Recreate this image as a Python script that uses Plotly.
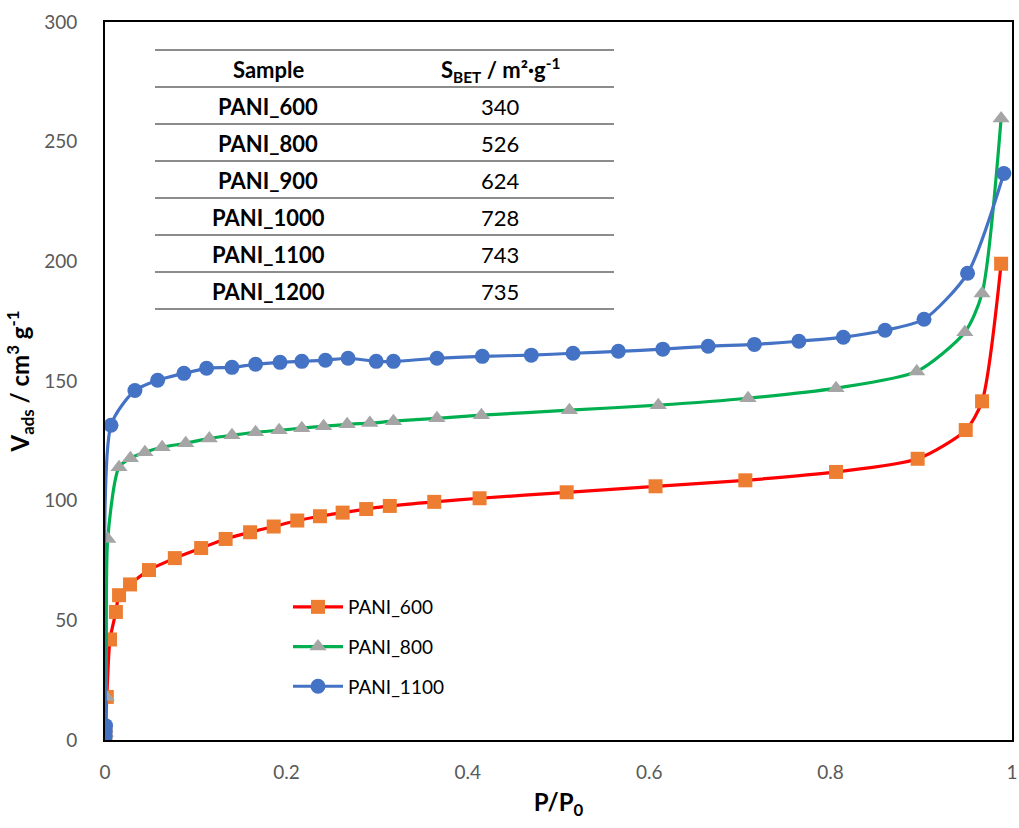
import plotly.graph_objects as go

# ---------------- data ----------------
p600_x = [0.0001, 0.0004, 0.002, 0.0055, 0.012, 0.0155, 0.0276, 0.0485, 0.077, 0.106, 0.133, 0.160, 0.186,
          0.212, 0.237, 0.262, 0.288, 0.314, 0.363, 0.413, 0.509, 0.607, 0.706, 0.806, 0.896, 0.949, 0.967, 0.988]
p600_y = [1, 3, 18, 42, 53.5, 60.5, 65, 71, 76, 80.2, 84, 86.8, 89.2, 91.7, 93.5, 95, 96.5, 97.8, 99.5,
          101, 103.5, 106, 108.5, 112, 117.5, 129.5, 141.5, 199]

p800_x = [0.0001, 0.0004, 0.0015, 0.003, 0.0155, 0.028, 0.044, 0.063, 0.089, 0.115, 0.140, 0.166, 0.192,
          0.217, 0.241, 0.267, 0.292, 0.318, 0.366, 0.415, 0.512, 0.610, 0.709, 0.806, 0.895, 0.948, 0.967, 0.988]
p800_y = [1, 3, 18, 84, 114, 117.7, 120.2, 122.3, 124, 126, 127.3, 128.6, 129.4, 130.3, 131.1, 131.9,
          132.4, 133.2, 134.4, 135.7, 137.8, 139.9, 142.8, 147, 154, 170.4, 186.6, 259.7]

p1100_x = [0.0001, 0.0003, 0.0006, 0.0066, 0.033, 0.058, 0.087, 0.112, 0.140, 0.166, 0.193, 0.217, 0.243,
           0.268, 0.299, 0.318, 0.366, 0.416, 0.470, 0.516, 0.566, 0.615, 0.665, 0.716, 0.765, 0.814,
           0.860, 0.903, 0.951, 0.991]
p1100_y = [1.5, 3.5, 6, 131.5, 146, 150.3, 153.2, 155.3, 155.7, 157, 157.8, 158.2, 158.7, 159.5, 158.2,
           158.2, 159.5, 160.3, 160.8, 161.6, 162.4, 163.3, 164.5, 165.3, 166.6, 168.3, 171.2, 175.8,
           195, 236.7]

table_samples = ["PANI_600", "PANI_800", "PANI_900", "PANI_1000", "PANI_1100", "PANI_1200"]
table_sbet = [340, 526, 624, 728, 743, 735]
table_header = ["Sample", "S<sub>BET</sub> / m²·g<sup>-1</sup>"]

x_ticks = [0, 0.2, 0.4, 0.6, 0.8, 1]
x_ticklabels = ["0", "0.2", "0.4", "0.6", "0.8", "1"]
y_ticks = [0, 50, 100, 150, 200, 250, 300]

# ---------------- figure ----------------
FONT = "Lato"
W, H = 1019, 828
L, R, T, B = 105, 7, 22, 88
PW, PH = W - L - R, H - T - B


def px_to_paper(px, py):
    return (px - L) / PW, 1 - (py - T) / PH


fig = go.Figure()

series = [
    ("PANI_600", p600_x, p600_y, "#FF0000", "#ED7D31", "square", 14),
    ("PANI_800", p800_x, p800_y, "#00B050", "#A5A5A5", "triangle-up", 15),
    ("PANI_1100", p1100_x, p1100_y, "#4472C4", "#4472C4", "circle", 15),
]
for name, xs, ys, lc, mc, sym, ms in series:
    fig.add_trace(go.Scatter(
        x=xs, y=ys, name=name, mode="lines+markers",
        line=dict(color=lc, width=3.2, shape="spline", smoothing=0.7),
        marker=dict(color=mc, symbol=sym, size=ms, line=dict(width=0)),
        legendgroup=name,
    ))

# ---- embedded table ----
tx0, tx1 = 155, 614
line_y0, row_h = 50, 37
col1_x, col2_x = 268, 500
for i in range(len(table_samples) + 2):
    yy = line_y0 + i * row_h
    a, b_ = px_to_paper(tx0, yy)
    c, _ = px_to_paper(tx1, yy)
    fig.add_shape(type="line", xref="paper", yref="paper", x0=a, x1=c, y0=b_, y1=b_,
                  line=dict(color="#8C8C8C", width=2))

rows = [(table_header[0], table_header[1], True)] + [
    (s, str(v), False) for s, v in zip(table_samples, table_sbet)]
for i, (c1, c2, hdr) in enumerate(rows):
    cy = line_y0 + (i + 0.5) * row_h + 1
    x1p, yp = px_to_paper(col1_x, cy)
    x2p, _ = px_to_paper(col2_x, cy)
    fig.add_annotation(x=x1p, y=yp, xref="paper", yref="paper", text=f"<b>{c1}</b>",
                       xanchor="center", yanchor="middle",
                       showarrow=False, font=dict(family=FONT, size=22, color="#000000"))
    fig.add_annotation(x=x2p, y=yp, xref="paper", yref="paper",
                       text=(f"<b>{c2}</b>" if hdr else c2),
                       xanchor="center", yanchor="middle",
                       showarrow=False, font=dict(family=FONT, size=22, color="#000000"))

lx, ly = px_to_paper(288, 588)
fig.update_layout(
    width=W, height=H,
    margin=dict(l=L, r=R, t=T, b=B, autoexpand=False),
    paper_bgcolor="white", plot_bgcolor="white",
    font=dict(family=FONT, color="#595959"),
    showlegend=True,
    legend=dict(x=lx, y=ly, xanchor="left", yanchor="top", bgcolor="rgba(0,0,0,0)",
                font=dict(family=FONT, size=19, color="#000000"), tracegroupgap=12,
                itemwidth=50),
    xaxis=dict(range=[0, 1], tickvals=x_ticks, ticktext=x_ticklabels, showgrid=False, zeroline=False,
               showline=True, linecolor="black", linewidth=2, mirror=True, ticks="", automargin=False,
               tickfont=dict(family=FONT, size=19, color="#595959"), ticklabelstandoff=14,
               title=dict(text="<b>P/P<sub>0</sub></b>", font=dict(family=FONT, size=24, color="#000000"),
                          standoff=12)),
    yaxis=dict(range=[0, 300], tickvals=y_ticks, showgrid=False, zeroline=False, automargin=False,
               showline=True, linecolor="black", linewidth=2, mirror=True, ticks="",
               tickfont=dict(family=FONT, size=19, color="#595959"), ticklabelstandoff=22,
               title=dict(text="<b>V<sub>ads</sub> / cm<sup>3</sup> g<sup>-1</sup></b>",
                          font=dict(family=FONT, size=24, color="#000000"), standoff=8)),
)

fig.write_html("out.html")
